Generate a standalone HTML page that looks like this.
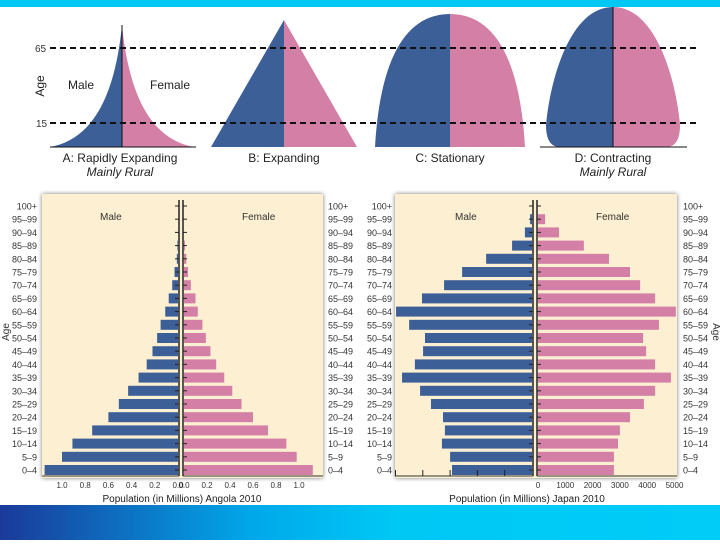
<!DOCTYPE html>
<html><head><meta charset="utf-8"><style>
body{margin:0;width:720px;height:540px;overflow:hidden;background:#fff;font-family:"Liberation Sans",sans-serif}
svg text{font-family:"Liberation Sans",sans-serif}
</style></head><body>
<svg id="s" width="720" height="540" viewBox="0 0 720 540">
<defs>
<linearGradient id="bg" x1="0" x2="1" y1="0" y2="0"><stop offset="0" stop-color="#1a3a9a"/><stop offset="0.35" stop-color="#00a8ea"/><stop offset="0.55" stop-color="#00c8f5"/><stop offset="1" stop-color="#00ccf8"/></linearGradient>
<filter id="sh" x="-5%" y="-5%" width="110%" height="110%"><feDropShadow dx="0" dy="0" stdDeviation="2" flood-color="#777"/></filter>
</defs>
<rect x="0" y="0" width="720" height="7" fill="#00c8f5"/>
<rect x="0" y="505" width="720" height="35" fill="url(#bg)"/>
<g>
<path d="M50,147 C88,140 114,105 122,25 L122,147Z" fill="#3d5f98"/>
<path d="M194,147 C156,140 130,105 122,25 L122,147Z" fill="#d47fa6"/>
<line x1="122" y1="25" x2="122" y2="147" stroke="#111" stroke-width="1"/>
<line x1="50" y1="147" x2="196" y2="147" stroke="#111" stroke-width="1"/>
</g>
<g>
<path d="M211,147 L284,20 L284,147Z" fill="#3d5f98"/>
<path d="M357,147 L284,20 L284,147Z" fill="#d47fa6"/>
</g>
<g>
<path d="M375,147 C380,60 405,14 450,14 L450,147Z" fill="#3d5f98"/>
<path d="M525,147 C520,60 495,14 450,14 L450,147Z" fill="#d47fa6"/>
</g>
<g>
<path d="M613,7 C570,7 550,80 546,125 C546,143 553,147 560,147 L613,147Z" fill="#3d5f98"/>
<path d="M613,7 C656,7 676,80 680,125 C680,143 673,147 666,147 L613,147Z" fill="#d47fa6"/>
<line x1="613" y1="7" x2="613" y2="147" stroke="#111"/>
<line x1="540" y1="147" x2="687" y2="147" stroke="#111"/>
</g>
<line x1="50" y1="48" x2="700" y2="48" stroke="#111" stroke-width="2" stroke-dasharray="6,4"/>
<line x1="50" y1="123" x2="700" y2="123" stroke="#111" stroke-width="2" stroke-dasharray="6,4"/>
<text x="35" y="52" font-size="10" fill="#333">65</text>
<text x="36" y="127" font-size="10" fill="#333">15</text>
<text transform="translate(44,86) rotate(-90)" font-size="12" text-anchor="middle" fill="#222">Age</text>
<text x="68" y="89" font-size="12" fill="#222">Male</text>
<text x="150" y="89" font-size="12" fill="#222">Female</text>
<g font-size="12" fill="#222" text-anchor="middle">
<text x="120" y="162">A: Rapidly Expanding</text>
<text x="120" y="176" font-style="italic">Mainly Rural</text>
<text x="284" y="162">B: Expanding</text>
<text x="450" y="162">C: Stationary</text>
<text x="613" y="162">D: Contracting</text>
<text x="613" y="176" font-style="italic">Mainly Rural</text>
</g>
<g id="charts"></g>
</svg>
<script>
const ageGroups=["100+","95–99","90–94","85–89","80–84","75–79","70–74","65–69","60–64","55–59","50–54","45–49","40–44","35–39","30–34","25–29","20–24","15–19","10–14","5–9","0–4"];
const angolaMale=[0,0,0,0.005,0.01,0.03,0.05,0.08,0.11,0.15,0.18,0.22,0.27,0.34,0.43,0.51,0.60,0.74,0.91,1.0,1.15];
const angolaFemale=[0,0,0,0.008,0.02,0.035,0.06,0.10,0.12,0.16,0.19,0.23,0.28,0.35,0.42,0.50,0.60,0.73,0.89,0.98,1.12];
const japanMale=[0,70,260,730,1680,2560,3220,4030,4980,4500,3920,3990,4290,4760,4100,3700,3260,3190,3300,3000,2930];
const japanFemale=[0,260,770,1680,2600,3370,3740,4290,5050,4430,3850,3960,4290,4870,4290,3880,3370,3000,2930,2780,2780];
const angolaTicks=["1.0","0.8","0.6","0.4","0.2","0.0"];
const angolaTickVals=[1.0,0.8,0.6,0.4,0.2,0.0];
const japanTicks=["0","1000","2000","3000","4000","5000"];
const japanTickVals=[0,1000,2000,3000,4000,5000];
const NS="http://www.w3.org/2000/svg";
const root=document.getElementById('charts');
function mk(tag,attrs,parent,txt){const e=document.createElementNS(NS,tag);for(const k in attrs)e.setAttribute(k,attrs[k]);if(txt!==undefined)e.textContent=txt;(parent||root).appendChild(e);return e;}
function pyramid(o){
  const g=mk('g',{});
  
  
  const panel=mk('rect',{x:o.x0,y:194,width:o.x1-o.x0,height:284,fill:'#fdf0d2',filter:'url(#sh)'},g);
  
  
  const yRow=i=>206+i*13.2;
  const xm=v=>o.cm-v*o.sm, xf=v=>o.cf+v*o.sf;
  ageGroups.forEach((a,i)=>{
    const y=yRow(i);
    const l=mk('text',{x:o.lx,y:y+3.5,'font-size':9,'text-anchor':'end',fill:'#333'},g,a);
    
    
    const r=mk('text',{x:o.rx,y:y+3.5,'font-size':9,fill:'#333'},g,a);
    
    
    const mv=o.male[i],fv=o.female[i];
    if(mv>0){const b=mk('rect',{x:xm(mv),y:y-5,width:o.cm-xm(mv),height:10,fill:'#3d5f98'},g);
      
      }
    if(fv>0){const b=mk('rect',{x:o.cf,y:y-5,width:xf(fv)-o.cf,height:10,fill:'#d47fa6'},g);
      
      }
    mk('line',{x1:o.cm-3,x2:o.cm+1,y1:y,y2:y,stroke:'#222'},g);
    mk('line',{x1:o.cf-1,x2:o.cf+3,y1:y,y2:y,stroke:'#222'},g);
  });
  mk('line',{x1:o.cm+1,x2:o.cm+1,y1:200,y2:476,stroke:'#222','stroke-width':1.5},g);
  mk('line',{x1:o.cf-1,x2:o.cf-1,y1:200,y2:476,stroke:'#222','stroke-width':1.5},g);
  mk('line',{x1:o.x0,x2:o.cm+1,y1:476,y2:476,stroke:'#333'},g);
  mk('line',{x1:o.cf-1,x2:o.x1,y1:476,y2:476,stroke:'#333'},g);
  o.ticks.forEach((t,i)=>{
    const v=o.tickVals[i];
    if(o.mlabels){const tl=mk('text',{x:xm(v),y:488,'font-size':8,'text-anchor':'middle',fill:'#333'},g,t);
      
      }
    else if(v>0){mk('line',{x1:xm(v),x2:xm(v),y1:470,y2:476,stroke:'#222'},g);}
    const tf=mk('text',{x:xf(v),y:488,'font-size':8,'text-anchor':'middle',fill:'#333'},g,t);
    
    
  });
  const ml=mk('text',{x:o.maleX,y:220,'font-size':10,fill:'#333'},g,'Male');
  
  
  const fl=mk('text',{x:o.femX,y:220,'font-size':10,fill:'#333'},g,'Female');
  
  
  const tt=mk('text',{x:o.titleX,y:502,'font-size':10,'text-anchor':'middle',fill:'#222'},g,o.title);
  
  
  const at=mk('text',{transform:'translate('+o.ageX+',332) rotate('+o.ageRot+')','font-size':10,'text-anchor':'middle',fill:'#333'},g,'Age');
  
  
}
pyramid({name:'angola-pyramid',x0:42,x1:323,cm:178,cf:184,sm:116,sf:115,lx:37,rx:328,male:angolaMale,female:angolaFemale,ticks:angolaTicks,tickVals:angolaTickVals,mlabels:true,maleX:100,femX:242,title:'Population (in Millions) Angola 2010',titleX:182,ageX:9,ageRot:-90});
pyramid({name:'japan-pyramid',x0:395,x1:677,cm:532,cf:538,sm:0.0273,sf:0.0273,lx:392,rx:683,male:japanMale,female:japanFemale,ticks:japanTicks,tickVals:japanTickVals,mlabels:false,maleX:455,femX:596,title:'Population (in Millions) Japan 2010',titleX:527,ageX:713,ageRot:90});
</script>
</body></html>
